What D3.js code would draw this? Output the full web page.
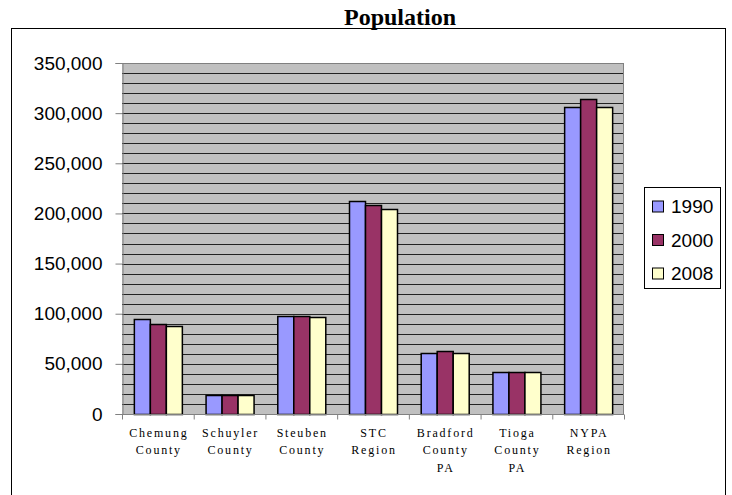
<!DOCTYPE html>
<html>
<head>
<meta charset="utf-8">
<script src="https://cdn.jsdelivr.net/npm/d3@7"></script>
<style>
  body { margin: 0; background: #fff; }
  svg { display: block; }
</style>
</head>
<body>
<svg id="chart" width="732" height="495"></svg>
<script>
const categories = [
  ['Chemung', 'County'],
  ['Schuyler', 'County'],
  ['Steuben', 'County'],
  ['STC', 'Region'],
  ['Bradford', 'County', 'PA'],
  ['Tioga', 'County', 'PA'],
  ['NYPA', 'Region']
];
const seriesNames = ['1990', '2000', '2008'];
const values1990 = [95000, 19000, 98000, 212000, 61000, 42000, 306000];
const values2000 = [90000, 19000, 98000, 208000, 63000, 42000, 314000];
const values2008 = [88000, 19000, 97000, 204000, 61000, 42000, 306000];
const yTicks = [0, 50000, 100000, 150000, 200000, 250000, 300000, 350000];
const colors = ['#9999ff', '#993366', '#ffffcc'];

const series = [values1990, values2000, values2008];
const svg = d3.select('#chart');

// outer frame
svg.append('rect')
  .attr('x', 11.5).attr('y', 28.5)
  .attr('width', 714).attr('height', 480)
  .attr('fill', 'none').attr('stroke', '#000').attr('stroke-width', 1);

svg.append('text')
  .attr('x', 400).attr('y', 25)
  .attr('text-anchor', 'middle')
  .style('font', 'bold 24px "Liberation Serif", "Times New Roman", serif')
  .text('Population');

const plot = { left: 122, right: 624, top: 63, bottom: 414 };

const x = d3.scaleBand()
  .domain(d3.range(categories.length))
  .range([plot.left, plot.right]);
const xInner = d3.scaleBand()
  .domain(d3.range(seriesNames.length))
  .range([0, 48]);
const y = d3.scaleLinear()
  .domain([0, 350000])
  .range([plot.bottom, plot.top]);

// background + gridlines
svg.append('rect')
  .attr('x', plot.left).attr('y', plot.top)
  .attr('width', plot.right - plot.left).attr('height', plot.bottom - plot.top)
  .attr('fill', '#c0c0c0');

svg.append('g')
  .selectAll('line')
  .data(d3.range(10000, 350001, 10000))
  .join('line')
  .attr('x1', plot.left).attr('x2', plot.right)
  .attr('y1', d => Math.round(y(d)) + 0.5)
  .attr('y2', d => Math.round(y(d)) + 0.5)
  .attr('stroke', d => d === 350000 ? '#808080' : '#222')
  .attr('stroke-width', 1);

svg.append('line')
  .attr('x1', plot.right - 0.5).attr('x2', plot.right - 0.5)
  .attr('y1', plot.top).attr('y2', plot.bottom)
  .attr('stroke', '#808080');

// bars
const groups = svg.append('g')
  .selectAll('g')
  .data(categories.map((c, i) => i))
  .join('g')
  .attr('transform', i => `translate(${x(i) + (x.bandwidth() - 48) / 2},0)`);

groups.selectAll('rect')
  .data(i => series.map((s, k) => ({ k, v: s[i] })))
  .join('rect')
  .attr('x', d => xInner(d.k) + 0.5)
  .attr('y', d => Math.round(y(d.v)) + 0.5)
  .attr('width', xInner.bandwidth())
  .attr('height', d => plot.bottom - Math.round(y(d.v)))
  .attr('fill', d => colors[d.k])
  .attr('stroke', '#000')
  .attr('stroke-width', 1.5);

// y axis
const yAxis = svg.append('g')
  .attr('transform', `translate(${plot.left + 0.5},0)`)
  .call(d3.axisLeft(y).tickValues(yTicks).tickSize(7).tickPadding(13)
    .tickFormat(d3.format(',')));
yAxis.selectAll('path, line').attr('stroke', '#808080');
yAxis.selectAll('text')
  .style('font', '19px "Liberation Sans", Arial, sans-serif')
  .attr('fill', '#000');

// x axis
const xAxis = svg.append('g')
  .attr('transform', `translate(0,${plot.bottom + 0.5})`);
xAxis.append('line')
  .attr('x1', plot.left).attr('x2', plot.right)
  .attr('stroke', '#808080');
xAxis.selectAll('line.tick')
  .data(d3.range(categories.length + 1))
  .join('line')
  .attr('class', 'tick')
  .attr('x1', i => (i < categories.length ? x(i) : plot.right) + 0.5)
  .attr('x2', i => (i < categories.length ? x(i) : plot.right) + 0.5)
  .attr('y1', 0).attr('y2', 5)
  .attr('stroke', '#808080');

const labels = xAxis.selectAll('text')
  .data(categories)
  .join('text')
  .attr('text-anchor', 'middle')
  .style('font', '12px "Liberation Serif", "Times New Roman", serif')
  .style('letter-spacing', '1.8px')
  .attr('fill', '#000');
labels.selectAll('tspan')
  .data((c, i) => c.map(line => ({ line, i })))
  .join('tspan')
  .attr('x', d => x(d.i) + x.bandwidth() / 2 + 1)
  .attr('y', (d, j) => 22 + j * 17.5)
  .text(d => d.line);

// legend
const legend = svg.append('g').attr('transform', 'translate(644.5,187.5)');
legend.append('rect')
  .attr('width', 76).attr('height', 101)
  .attr('fill', '#fff').attr('stroke', '#000');
const items = legend.selectAll('g')
  .data(seriesNames)
  .join('g')
  .attr('transform', (d, i) => `translate(8,${19 + i * 33.5})`);
items.append('rect')
  .attr('x', 0).attr('y', -5.5)
  .attr('width', 11).attr('height', 11)
  .attr('fill', (d, i) => colors[i])
  .attr('stroke', '#000');
items.append('text')
  .attr('x', 18.5).attr('y', 6.5)
  .style('font', '19px "Liberation Sans", Arial, sans-serif')
  .text(d => d);
</script>
</body>
</html>
